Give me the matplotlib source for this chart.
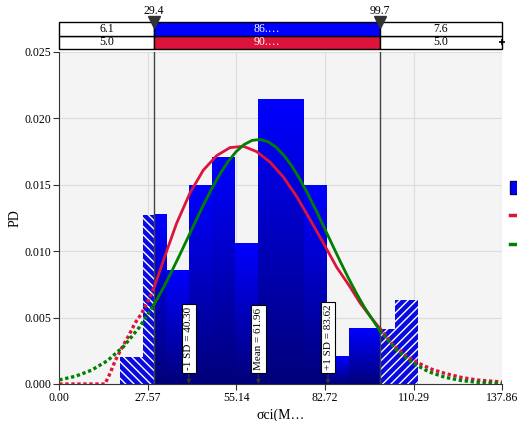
import numpy as np
import matplotlib
matplotlib.use("Agg")
import matplotlib.pyplot as plt
from matplotlib.colors import LinearSegmentedColormap
from matplotlib.patches import Rectangle, Patch
from matplotlib.lines import Line2D

plt.rcParams.update({
    "font.family": "Liberation Serif",
    "font.size": 8.5,
    "axes.edgecolor": "#333333",
    "hatch.linewidth": 1.0,
})

# histogram, probability density per bin
bin_start = 18.98
bin_width = 7.127
hist_density = [0.00206, 0.01273, 0.00851, 0.01491, 0.01702, 0.01059,
                0.02139, 0.02139, 0.01491, 0.00206, 0.00417, 0.00417, 0.00633]

# spec limits and stats
lsl, usl = 29.4, 99.7
mean_val = 61.96
sd_minus, sd_plus = 40.30, 83.62
x_max = 137.86

# normal fit (green)
normal_x = [0, 5, 10, 15, 20, 25, 29.4, 30, 32.5, 35, 37.5, 40, 42.5, 45, 47.5, 50,
            52.5, 55, 57.5, 60, 62.5, 65, 67.5, 70, 72.5, 75, 77.5, 80, 82.5, 85,
            87.5, 90, 92.5, 95, 99.7, 100, 105, 110, 115, 120, 125, 130, 135, 137.86]
normal_pdf = [0.000308, 0.000580, 0.001036, 0.001756, 0.002821, 0.004295, 0.005951,
              0.006201, 0.007303, 0.008489, 0.009735, 0.011016, 0.012302, 0.013555,
              0.014739, 0.015814, 0.016743, 0.017491, 0.018032, 0.018343, 0.018412,
              0.018238, 0.017825, 0.017192, 0.016361, 0.015365, 0.014239, 0.013021,
              0.011748, 0.010460, 0.009190, 0.007967, 0.006816, 0.005754, 0.004036,
              0.003940, 0.002558, 0.001574, 0.000918, 0.000508, 0.000267, 0.000133,
              0.0000625, 0.0000397]

# bounded fit (red)
fit_x = [0, 14.2, 15.8, 17.3, 19.4, 21.5, 23.6, 25.6, 27.7, 29.4, 33.4, 36.5, 40.7,
         44.8, 49.0, 53.1, 57.3, 61.4, 65.6, 69.7, 73.9, 78.0, 82.2, 86.3, 90.5,
         93.6, 96.7, 99.7, 104.0, 108.0, 111.5, 116.0, 120.0, 125.0, 130.0, 137.86]
fit_pdf = [0.0, 0.0, 0.0008, 0.0017, 0.0027, 0.0036, 0.0046, 0.0053, 0.0063, 0.0072,
           0.0100, 0.0121, 0.0144, 0.0161, 0.0172, 0.0178, 0.0179, 0.0175, 0.0167,
           0.0156, 0.0141, 0.0124, 0.0106, 0.0088, 0.0073, 0.0061, 0.0051, 0.0042,
           0.0029, 0.0021, 0.0016, 0.0011, 0.0008, 0.0005, 0.0003, 0.00015]

x_ticks = [0.00, 27.57, 55.14, 82.72, 110.29, 137.86]
y_ticks = [0.000, 0.005, 0.010, 0.015, 0.020, 0.025]

row_blue = ["6.1", "86.…", "7.6"]
row_red = ["5.0", "90.…", "5.0"]

BLUE = "#0000ff"
RED = "#dc143c"
GREEN = "#008000"

fig = plt.figure(figsize=(5.17, 4.21), dpi=100)
ax = fig.add_axes([0.1147, 0.0879, 0.8569, 0.7886])
ax.set_facecolor("#f4f4f4")

grad = LinearSegmentedColormap.from_list("bar", ["#00007a", "#0000ff"])
ramp = np.linspace(0, 1, 128).reshape(-1, 1)
edges = bin_start + bin_width * np.arange(len(hist_density) + 1)

for lo, hi, h in zip(edges[:-1], edges[1:], hist_density):
    if lo < lsl:
        ax.bar(lo, h, width=min(hi, lsl) - lo, align="edge", color="#0a0ae0",
               edgecolor="white", hatch="\\\\\\\\", lw=0, zorder=2)
    a, b = max(lo, lsl), min(hi, usl)
    if b > a:
        ax.imshow(ramp, extent=[a, b, 0, h], origin="lower", cmap=grad,
                  aspect="auto", zorder=2)
    if hi > usl:
        ax.bar(max(lo, usl), h, width=hi - max(lo, usl), align="edge", color="#0a0ae0",
               edgecolor="white", hatch="////", lw=0, zorder=2)

for xv in (lsl, usl):
    ax.axvline(xv, color="#444444", lw=1, zorder=4)


def draw_curve(xs, ys, color):
    xs, ys = np.array(xs), np.array(ys)
    low, high = xs <= lsl, xs >= usl
    mid = ~((xs < lsl) | (xs > usl))
    for m in (low, high):
        ax.plot(xs[m], ys[m], color=color, lw=2.4, ls=(0, (1, 0.8)), zorder=5)
    ax.plot(xs[mid], ys[mid], color=color, lw=2, zorder=5)


draw_curve(fit_x, fit_pdf, RED)
draw_curve(normal_x, normal_pdf, GREEN)

for xv, txt in [(sd_minus, f"-1 SD = {sd_minus:.2f}"),
                (mean_val, f"Mean = {mean_val:.2f}"),
                (sd_plus, f"+1 SD = {sd_plus:.2f}")]:
    ax.annotate(txt, xy=(xv, 0), xytext=(xv, 0.00105), ha="center", va="bottom",
                rotation=90, fontsize=8, zorder=6,
                bbox=dict(boxstyle="square,pad=0.25", fc="white", ec="black", lw=0.8),
                arrowprops=dict(arrowstyle="-|>", color="#333333", lw=0.8,
                                mutation_scale=6, shrinkA=0, shrinkB=0))

ax.set_xlim(0, x_max)
ax.set_ylim(0, 0.025)
ax.set_xticks(x_ticks)
ax.set_xticklabels([f"{v:.2f}" for v in x_ticks])
ax.set_yticks(y_ticks)
ax.set_yticklabels([f"{v:.3f}" for v in y_ticks])
ax.tick_params(direction="out", length=4, width=0.8, color="#333333", labelsize=8.5, pad=2)
ax.grid(True, color="#dcdcdc", lw=0.8)
ax.set_axisbelow(True)
ax.spines["top"].set_visible(False)
ax.spines["right"].set_visible(False)
ax.set_xlabel("σci(M…", fontsize=10, labelpad=3)
ax.set_ylabel("PD", fontsize=10, labelpad=2)

# summary table above the plot
tax = fig.add_axes([0.1147, 0.8836, 0.8569, 0.0641])
tax.set_xlim(0, x_max)
tax.set_ylim(0, 2)
tax.axis("off")
bounds = [0, lsl, usl, x_max]
for row, (vals, mid_color) in enumerate([(row_red, RED), (row_blue, BLUE)]):
    for i in range(3):
        tax.add_patch(Rectangle((bounds[i], row), bounds[i + 1] - bounds[i], 1,
                                fc=mid_color if i == 1 else "white", ec="black",
                                lw=1, clip_on=False))
        tax.text((bounds[i] + bounds[i + 1]) / 2, row + 0.5, vals[i], ha="center",
                 va="center", color="white" if i == 1 else "black", fontsize=8.5)
tax.plot([lsl, usl], [2, 2], marker="v", ls="none", color="#333333", ms=8, clip_on=False)
for xv in (lsl, usl):
    tax.text(xv, 2.8, f"{xv:.1f}", ha="center", va="center", fontsize=8.5)
tax.plot(x_max, 0.5, marker="+", color="black", ms=5, mew=1.2, clip_on=False)

# legend: only the keys fall inside the canvas, as in the source
handles = [Patch(fc=BLUE, ec="#000060", lw=1),
           Line2D([], [], color=RED, lw=2.5),
           Line2D([], [], color=GREEN, lw=2.5)]
fig.legend(handles, ["", "", ""], loc="upper left",
           bbox_to_anchor=(510 / 517, 1 - 181 / 421), frameon=False, borderpad=0,
           borderaxespad=0, handleheight=1.2, handlelength=1.2, labelspacing=1.2,
           fontsize=9)

fig.savefig("out.png", dpi=100)
